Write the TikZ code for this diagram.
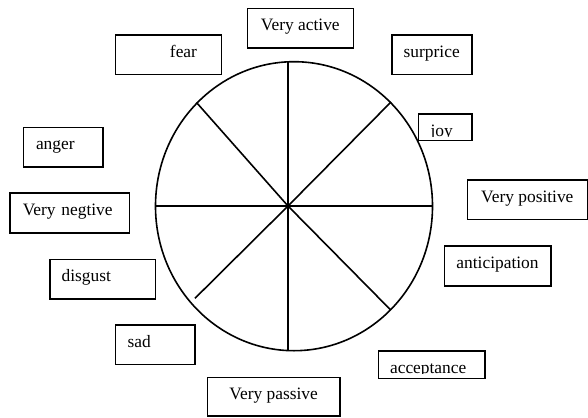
\documentclass[tikz,border=0pt]{standalone}
\usepackage{fontspec}
\setmainfont{Liberation Serif}
\usetikzlibrary{positioning}

\tikzset{
    emo/.style={draw, line width=1.6pt, inner sep=0pt,
        text height=0.7em, text depth=0.2em, font=\fontsize{17.4}{20}\selectfont},
    emotext/.style={anchor=base, inner sep=0pt, font=\fontsize{17.4}{20}\selectfont},
    spoke/.style={line width=1.6pt},
}

\begin{document}
\begin{tikzpicture}[x=1pt, y=-1pt]
    \useasboundingbox[fill=white] (0,0) rectangle (588,417);

    % Wheel
    \draw [line width=1.6pt] (294,206.2) ellipse [x radius=138.5, y radius=144.5];
    \coordinate (hub) at (288,206);
    \coordinate (top) at (288,62);
    \coordinate (bottom) at (288,350.7);
    \coordinate (left) at (155.5,206);
    \coordinate (right) at (432.5,206);
    \coordinate (ul) at (196.5,102.5);
    \coordinate (ur) at (391,102);
    \coordinate (ll) at (195,298.3);
    \coordinate (lr) at (390.7,310);
    \foreach \e in {top,ur,right,lr,bottom,ll,left,ul} {
        \draw [spoke] (hub) -- (\e);
    }

    % Axis labels
    \node[emo, minimum width=106pt, minimum height=39.3pt] (active) at (300.3,28.2) {Very active};
    \node[emo, minimum width=120pt, minimum height=39.3pt] (positive) at (527.3,199.7) {Very positive};
    \node[emo, minimum width=132.7pt, minimum height=38.7pt] (passive) at (273.7,396.7) {Very passive};
    \node[emo, minimum width=119.3pt, minimum height=40pt, text width=93.9pt,
        inner xsep=12.7pt, align=left] (negtive) at (69.7,212.7) {Very negtive};

    % Emotions
    \node[emo, minimum width=106pt, minimum height=39.7pt, text width=57.4pt,
        inner xsep=24.3pt, align=right] (fear) at (168.3,54.8) {fear};
    \node[emo, minimum width=80pt, minimum height=39.7pt] (surprice) at (431.7,54.8) {surprice};
    % text cut off at the baseline
    \node[emo, minimum width=53.4pt, minimum height=26.4pt,
        path picture={
            \clip (path picture bounding box.north west) rectangle ([yshift=4pt]path picture bounding box.south east);
            \node[emotext] at ([xshift=-3.3pt, yshift=4pt]path picture bounding box.south) {joy};}]
        (joy) at (445,127.2) {};
    \node[emo, minimum width=106.4pt, minimum height=40pt] (anticipation) at (497.5,265.7) {anticipation};
    \node[emo, minimum width=106.7pt, minimum height=27.3pt,
        path picture={
            \clip (path picture bounding box.north west) rectangle ([yshift=4.8pt]path picture bounding box.south east);
            \node[emotext] at ([xshift=-3.5pt, yshift=4.8pt]path picture bounding box.south) {acceptance};}]
        (acceptance) at (431.7,364.7) {};
    \node[emo, minimum width=79.3pt, minimum height=39.7pt, text width=55.3pt,
        inner xsep=12pt, align=left] (sad) at (155.3,344.8) {sad};
    \node[emo, minimum width=105.7pt, minimum height=39.7pt, text width=82.3pt,
        inner xsep=11.7pt, align=left] (disgust) at (102.8,279.2) {disgust};
    \node[emo, minimum width=79.4pt, minimum height=39.4pt, text width=54pt,
        inner xsep=12.7pt, align=left] (anger) at (63,147) {anger};
\end{tikzpicture}
\end{document}
